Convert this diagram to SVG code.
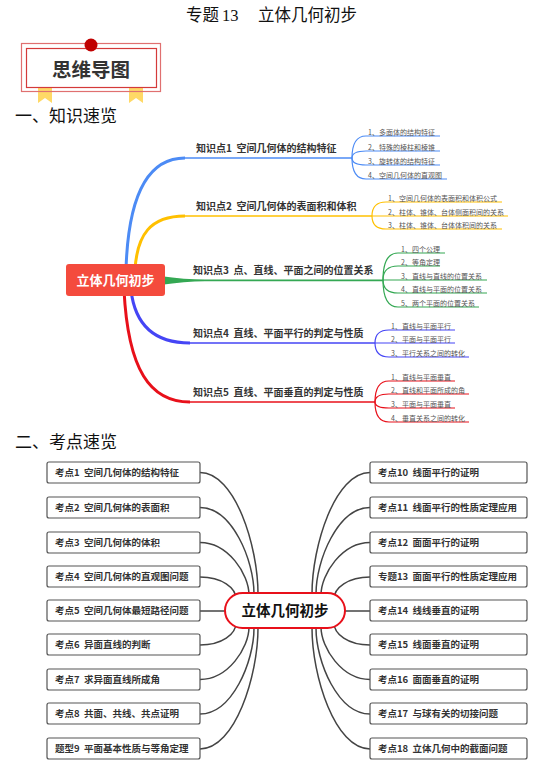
<svg xmlns="http://www.w3.org/2000/svg" width="552" height="771" viewBox="0 0 552 771">
<style>
text{font-family:"Noto Sans CJK SC","Liberation Sans",sans-serif}
.ttl{font-size:16.5px;fill:#111}
.sec{font-size:17px;fill:#111}
.main{font-size:10px;font-weight:bold;fill:#333}
.sub{font-size:7px;fill:#555}
.box{fill:#fff;stroke:#555;stroke-width:1.2}
.bt{font-size:9.5px;font-weight:bold;fill:#333}
.con{fill:none;stroke:#444;stroke-width:1.5}
.sb{fill:none;stroke-width:1.2}
</style>
<rect width="552" height="771" fill="#fff"/>
<!-- title -->
<g id="title">
<text class="ttl" x="186" y="21">专题</text>
<text class="ttl" x="222" y="21" style="font-family:'Liberation Serif',serif">13</text>
<text class="ttl" x="258" y="21">立体几何初步</text>
</g>
<!-- banner -->
<g id="banner">
<polygon points="38,88 52,88 52,103 45,98 38,103" fill="#FFD966"/>
<polygon points="129,88 143,88 143,103 136,98 129,103" fill="#FFD966"/>
<rect x="21.5" y="43.5" width="139" height="48" fill="none" stroke="#E07070" stroke-width="1.2"/>
<rect x="26.5" y="48.5" width="130" height="39" fill="#fff" stroke="#D43A3A" stroke-width="1.2"/>
<circle cx="91" cy="45" r="6.5" fill="#C00000"/>
<text x="91" y="77" text-anchor="middle" style="font-size:19.5px;font-weight:bold;fill:#333">思维导图</text>
</g>
<text class="sec" x="15" y="122">一、知识速览</text>
<!-- mind map 1 connectors -->
<g id="mm1-connectors">
<path d="M126,270 C128,200 145,158 185,158" fill="none" stroke="#4C8BF5" stroke-width="3"/>
<path d="M185,158 L352,158" fill="none" stroke="#4C8BF5" stroke-width="1.5"/>
<path d="M135,270 C137,235 150,216 185,216" fill="none" stroke="#FFC000" stroke-width="3"/>
<path d="M185,216 L372,216" fill="none" stroke="#FFC000" stroke-width="1.5"/>
<path d="M160,276 Q185,279.5 205,279.6 L383,279.6 L383,281.2 L205,281.2 Q185,281.5 160,285 Z" fill="#34A853"/>
<path d="M131,290 C135,325 155,343 190,343" fill="none" stroke="#4545F5" stroke-width="3"/>
<path d="M190,343 L375,343" fill="none" stroke="#4545F5" stroke-width="1.5"/>
<path d="M124,290 C128,370 150,402 190,402" fill="none" stroke="#E8101A" stroke-width="3"/>
<path d="M190,402 L375,402" fill="none" stroke="#E8101A" stroke-width="1.5"/>
<!-- sub branches -->
<g class="sb" stroke="#4C8BF5">
<path d="M352,158 Q352,136 366,136 L440,136"/>
<path d="M352,158 Q352,151 366,151 L440,151"/>
<path d="M352,158 Q352,165 366,165 L440,165"/>
<path d="M352,158 Q352,179 366,179 L447,179"/>
</g>
<g class="sb" stroke="#FFC000">
<path d="M372,216 Q372,202 386,202 L502,202"/>
<path d="M372,216 L508,216"/>
<path d="M372,216 Q372,229 386,229 L502,229"/>
</g>
<g class="sb" stroke="#34A853">
<path d="M383,280 Q383,253 398,253 L445,253"/>
<path d="M383,280 Q383,266 398,266 L440,266"/>
<path d="M383,280 L487,280"/>
<path d="M383,280 Q383,293 398,293 L487,293"/>
<path d="M383,280 Q383,307 398,307 L479,307"/>
</g>
<g class="sb" stroke="#4545F5">
<path d="M375,343 Q375,330 389,330 L455,330"/>
<path d="M375,343 L455,343"/>
<path d="M375,343 Q375,357 389,357 L469,357"/>
</g>
<g class="sb" stroke="#E8101A">
<path d="M375,402 Q375,381 389,381 L455,381"/>
<path d="M375,402 Q375,394 389,394 L469,394"/>
<path d="M375,402 Q375,408 389,408 L455,408"/>
<path d="M375,402 Q375,422 389,422 L469,422"/>
</g>
</g>
<!-- mind map 1 nodes -->
<g id="mm1-root">
<rect x="66" y="264" width="99" height="32" rx="3" fill="#F44B3D"/>
<text x="115.5" y="285" text-anchor="middle" style="font-size:13px;font-weight:bold;fill:#fff">立体几何初步</text>
</g>
<g id="k1"><text class="main" x="196" y="152" xml:space="preserve">知识点1  空间几何体的结构特征</text></g>
<g id="k2"><text class="main" x="196" y="210" xml:space="preserve">知识点2  空间几何体的表面积和体积</text></g>
<g id="k3"><text class="main" x="193" y="274" xml:space="preserve">知识点3  点、直线、平面之间的位置关系</text></g>
<g id="k4"><text class="main" x="193" y="337" xml:space="preserve">知识点4  直线、平面平行的判定与性质</text></g>
<g id="k5"><text class="main" x="193" y="396" xml:space="preserve">知识点5  直线、平面垂直的判定与性质</text></g>
<g id="k1-subs">
<text class="sub" x="368" y="134.5">1、多面体的结构特征</text>
<text class="sub" x="368" y="149.5">2、特殊的棱柱和棱锥</text>
<text class="sub" x="368" y="163.5">3、旋转体的结构特征</text>
<text class="sub" x="368" y="177.5">4、空间几何体的直观图</text>
</g>
<g id="k2-subs">
<text class="sub" x="388" y="200.5">1、空间几何体的表面积和体积公式</text>
<text class="sub" x="388" y="214.5">2、柱体、锥体、台体侧面积间的关系</text>
<text class="sub" x="388" y="227.5">3、柱体、锥体、台体体积间的关系</text>
</g>
<g id="k3-subs">
<text class="sub" x="401" y="251.5">1、四个公理</text>
<text class="sub" x="401" y="264.5">2、等角定理</text>
<text class="sub" x="401" y="278.5">3、直线与直线的位置关系</text>
<text class="sub" x="401" y="291.5">4、直线与平面的位置关系</text>
<text class="sub" x="401" y="305.5">5、两个平面的位置关系</text>
</g>
<g id="k4-subs">
<text class="sub" x="391" y="328.5">1、直线与平面平行</text>
<text class="sub" x="391" y="341.5">2、平面与平面平行</text>
<text class="sub" x="391" y="355.5">3、平行关系之间的转化</text>
</g>
<g id="k5-subs">
<text class="sub" x="391" y="379.5">1、直线与平面垂直</text>
<text class="sub" x="391" y="392.5">2、直线和平面所成的角</text>
<text class="sub" x="391" y="406.5">3、平面与平面垂直</text>
<text class="sub" x="391" y="420.5">4、垂直关系之间的转化</text>
</g>
<text class="sec" x="15" y="448">二、考点速览</text>
<!-- mind map 2 connectors -->
<g id="mm2-connectors" class="con">
<path d="M200,472.5 C235,472.5 258,546 258,594"/>
<path d="M200,507.5 C232,507.5 254,560 254,594"/>
<path d="M200,542.5 C228,542.5 249,574 249,595"/>
<path d="M200,577 C222,577 236,588 236,599"/>
<path d="M200,611 L226,611"/>
<path d="M200,645 C222,645 236,634 236,623"/>
<path d="M200,679.5 C228,679.5 249,648 249,627"/>
<path d="M200,714 C232,714 254,662 254,628"/>
<path d="M200,749 C235,749 258,676 258,628"/>
<path d="M370,472.5 C335,472.5 312,546 312,594"/>
<path d="M370,507.5 C338,507.5 316,560 316,594"/>
<path d="M370,542.5 C342,542.5 321,574 321,595"/>
<path d="M370,577 C348,577 334,588 334,599"/>
<path d="M370,611 L344,611"/>
<path d="M370,645 C348,645 334,634 334,623"/>
<path d="M370,679.5 C342,679.5 321,648 321,627"/>
<path d="M370,714 C338,714 316,662 316,628"/>
<path d="M370,749 C335,749 312,676 312,628"/>
</g>
<g id="mm2-root">
<rect x="225" y="593" width="120" height="35" rx="17.5" fill="#fff" stroke="#E8101A" stroke-width="2"/>
<text x="285" y="616" text-anchor="middle" style="font-size:14.5px;font-weight:bold;fill:#111">立体几何初步</text>
</g>
<g id="p1"><rect class="box" x="47" y="462" width="153" height="21" rx="2"/><text class="bt" x="55" y="476" xml:space="preserve">考点1  空间几何体的结构特征</text></g>
<g id="p2"><rect class="box" x="47" y="497" width="153" height="21" rx="2"/><text class="bt" x="55" y="511" xml:space="preserve">考点2  空间几何体的表面积</text></g>
<g id="p3"><rect class="box" x="47" y="532" width="153" height="21" rx="2"/><text class="bt" x="55" y="546" xml:space="preserve">考点3  空间几何体的体积</text></g>
<g id="p4"><rect class="box" x="47" y="566" width="153" height="21" rx="2"/><text class="bt" x="55" y="580" xml:space="preserve">考点4  空间几何体的直观图问题</text></g>
<g id="p5"><rect class="box" x="47" y="600" width="153" height="21" rx="2"/><text class="bt" x="55" y="614" xml:space="preserve">考点5  空间几何体最短路径问题</text></g>
<g id="p6"><rect class="box" x="47" y="634" width="153" height="21" rx="2"/><text class="bt" x="55" y="648" xml:space="preserve">考点6  异面直线的判断</text></g>
<g id="p7"><rect class="box" x="47" y="669" width="153" height="21" rx="2"/><text class="bt" x="55" y="683" xml:space="preserve">考点7  求异面直线所成角</text></g>
<g id="p8"><rect class="box" x="47" y="703" width="153" height="21" rx="2"/><text class="bt" x="55" y="717" xml:space="preserve">考点8  共面、共线、共点证明</text></g>
<g id="p9"><rect class="box" x="47" y="738" width="153" height="21" rx="2"/><text class="bt" x="55" y="752" xml:space="preserve">题型9  平面基本性质与等角定理</text></g>
<g id="p10"><rect class="box" x="370" y="462" width="157" height="21" rx="2"/><text class="bt" x="378" y="476" xml:space="preserve">考点10  线面平行的证明</text></g>
<g id="p11"><rect class="box" x="370" y="497" width="157" height="21" rx="2"/><text class="bt" x="378" y="511" xml:space="preserve">考点11  线面平行的性质定理应用</text></g>
<g id="p12"><rect class="box" x="370" y="532" width="157" height="21" rx="2"/><text class="bt" x="378" y="546" xml:space="preserve">考点12  面面平行的证明</text></g>
<g id="p13"><rect class="box" x="370" y="566" width="157" height="21" rx="2"/><text class="bt" x="378" y="580" xml:space="preserve">专题13  面面平行的性质定理应用</text></g>
<g id="p14"><rect class="box" x="370" y="600" width="157" height="21" rx="2"/><text class="bt" x="378" y="614" xml:space="preserve">考点14  线线垂直的证明</text></g>
<g id="p15"><rect class="box" x="370" y="634" width="157" height="21" rx="2"/><text class="bt" x="378" y="648" xml:space="preserve">考点15  线面垂直的证明</text></g>
<g id="p16"><rect class="box" x="370" y="669" width="157" height="21" rx="2"/><text class="bt" x="378" y="683" xml:space="preserve">考点16  面面垂直的证明</text></g>
<g id="p17"><rect class="box" x="370" y="703" width="157" height="21" rx="2"/><text class="bt" x="378" y="717" xml:space="preserve">考点17  与球有关的切接问题</text></g>
<g id="p18"><rect class="box" x="370" y="738" width="157" height="21" rx="2"/><text class="bt" x="378" y="752" xml:space="preserve">考点18  立体几何中的截面问题</text></g>
</svg>
